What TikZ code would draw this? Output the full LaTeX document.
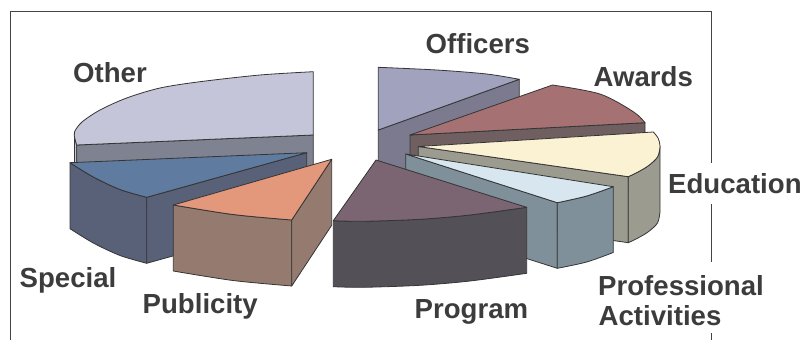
\documentclass[tikz,border=0pt]{standalone}
\usepackage{fontspec}
\setmainfont{Liberation Sans}
\definecolor{edge}{HTML}{353535}
\definecolor{framec}{HTML}{444444}
\definecolor{labelc}{HTML}{3C3C3C}
\definecolor{otherTop}{HTML}{C4C5D8}
\definecolor{otherSide}{HTML}{7F8291}
\definecolor{specTop}{HTML}{5F7BA0}
\definecolor{specSide}{HTML}{596178}
\definecolor{pubTop}{HTML}{E3977B}
\definecolor{pubSide}{HTML}{957B6F}
\definecolor{progTop}{HTML}{7C6572}
\definecolor{progSide}{HTML}{535157}
\definecolor{offTop}{HTML}{A1A2BE}
\definecolor{offSide}{HTML}{7C7A8F}
\definecolor{awTop}{HTML}{A67172}
\definecolor{awSide}{HTML}{705F60}
\definecolor{eduTop}{HTML}{FBF2D3}
\definecolor{eduSide}{HTML}{9B9B90}
\definecolor{proTop}{HTML}{D8E6EF}
\definecolor{proSide}{HTML}{7F909A}
\begin{document}
\begin{tikzpicture}[x=1pt,y=-1pt,
  face/.style={draw=edge, line width=0.8pt, line join=round},
  frameline/.style={draw=framec, line width=1pt},
  lbl/.style={font=\bfseries\fontsize{27.6}{30}\selectfont, text=labelc, inner sep=0pt, anchor=base west}]
\useasboundingbox (0,0) rectangle (806,340);

% frame
\draw[frameline] (10,340) -- (10,11.5) -- (711,11.5) -- (711,163);
\draw[frameline] (711,204) -- (711,262);
\draw[frameline] (711,333) -- (711,340);

% ---------- Other ----------
\filldraw[face, fill=otherTop] plot[smooth] coordinates {(74.5,132) (75,139) (76.7,145)} -- (76.7,211) -- (74.5,198) -- cycle;
\filldraw[face, fill=otherSide] (76.7,145) -- (313.3,135) -- (313.3,201) -- (76.7,211) -- cycle;
\filldraw[face, fill=otherTop] plot[smooth] coordinates {(313.3,71.7) (260,75) (200,81.7) (160,88) (126.7,98) (100,110) (82,122) (74.5,132) (75,139) (76.7,145)} -- (313.3,135) -- cycle;

% ---------- Officers ----------
\filldraw[face, fill=offSide] (378.3,130) -- (519.3,79.3) -- (519.3,146) -- (378.3,196) -- cycle;
\filldraw[face, fill=offTop] (378.3,130) -- (378.3,67.3) -- plot[smooth] coordinates {(378.3,67.3) (436.7,70) (486.7,74) (519.3,79.3)} -- cycle;

% ---------- Awards ----------
\filldraw[face, fill=awSide] (410,135) -- (645,122.7) -- (645,189) -- (410,201) -- cycle;
\filldraw[face, fill=awTop] (410,135) -- (552.5,85) -- plot[smooth] coordinates {(552.5,85) (600,94) (633.3,111.7) (645,122.7)} -- cycle;

% ---------- Education ----------
\filldraw[face, fill=eduSide] (418.3,146.5) -- (628.3,176.7) -- (628.3,242.7) -- (418.3,212.5) -- cycle;
\filldraw[face, fill=eduSide] plot[smooth] coordinates {(660,146) (657.5,157) (648,166) (637,172.5) (628.3,176.7)} -- (628.3,242.7) -- plot[smooth] coordinates {(628.3,242.7) (637,238.5) (648,232) (657.5,223) (660,212)} -- cycle;
\filldraw[face, fill=eduTop] (418.3,146.5) -- (653.3,132) -- plot[smooth] coordinates {(653.3,132) (658,138) (660,146) (657.5,157) (648,166) (637,172.5) (628.3,176.7)} -- cycle;

% ---------- Professional Activities ----------
\filldraw[face, fill=proSide] (405.7,154) -- (557.3,202.7) -- (557.3,268.3) -- (405.7,220) -- cycle;
\filldraw[face, fill=proSide] plot[smooth] coordinates {(557.3,202.7) (586.7,196) (613.3,186.7)} -- (613.3,252.5) -- plot[smooth] coordinates {(613.3,252.5) (586.7,262) (557.3,268.3)} -- cycle;
\filldraw[face, fill=proTop] (405.7,154) -- (613.3,186.7) -- plot[smooth] coordinates {(613.3,186.7) (586.7,196) (557.3,202.7)} -- cycle;

% ---------- Special ----------
\filldraw[face, fill=specSide] plot[smooth] coordinates {(70,162.7) (93.3,177) (120,189.5) (146.7,197.3)} -- (146.7,263.3) -- plot[smooth] coordinates {(146.7,263.3) (120,255.5) (93.3,243) (70,228.7)} -- cycle;
\filldraw[face, fill=specSide] (146.7,197.3) -- (306.7,152.7) -- (306.7,218.7) -- (146.7,263.3) -- cycle;
\filldraw[face, fill=specTop] (306.7,152.7) -- (70,162.7) -- plot[smooth] coordinates {(70,162.7) (93.3,177) (120,189.5) (146.7,197.3)} -- cycle;

% ---------- Publicity ----------
\filldraw[face, fill=pubSide] plot[smooth] coordinates {(173.3,205) (233,214.5) (291.7,220)} -- (291.7,286) -- plot[smooth] coordinates {(291.7,286) (233,280.5) (173.3,271)} -- cycle;
\filldraw[face, fill=pubSide] (291.7,220) -- (331.7,159.3) -- (331.7,225.3) -- (291.7,286) -- cycle;
\filldraw[face, fill=pubTop] (331.7,159.3) -- (173.3,205) -- plot[smooth] coordinates {(173.3,205) (233,214.5) (291.7,220)} -- cycle;

% ---------- Program ----------
\filldraw[face, fill=progSide] plot[smooth] coordinates {(333.3,220.7) (363.3,221.3) (420,219.3) (470,215) (526.7,207.3)} -- (526.7,273.3) -- plot[smooth] coordinates {(526.7,273.3) (470,281) (420,285.3) (363.3,287.3) (333.3,286.7)} -- cycle;
\filldraw[face, fill=progTop] (376,160) -- (526.7,207.3) -- plot[smooth] coordinates {(526.7,207.3) (470,215) (420,219.3) (363.3,221.3) (333.3,220.7)} -- cycle;

% ---------- labels ----------
\node[lbl] (lOther) at (73,82.7) {Other};
\node[lbl] (lOfficers) at (425.5,53.3) {Officers};
\node[lbl] (lAwards) at (593.5,86) {Awards};
\node[lbl] (lEducation) at (668,193.3) {Education};
\node[lbl] (lProf) at (598,295) {Professional};
\node[lbl] (lAct) at (598.5,325) {Activities};
\node[lbl] (lProgram) at (414.5,318.3) {Program};
\node[lbl] (lSpecial) at (19.5,287.3) {Special};
\node[lbl] (lPublicity) at (142.5,313.3) {Publicity};
\end{tikzpicture}
\end{document}
